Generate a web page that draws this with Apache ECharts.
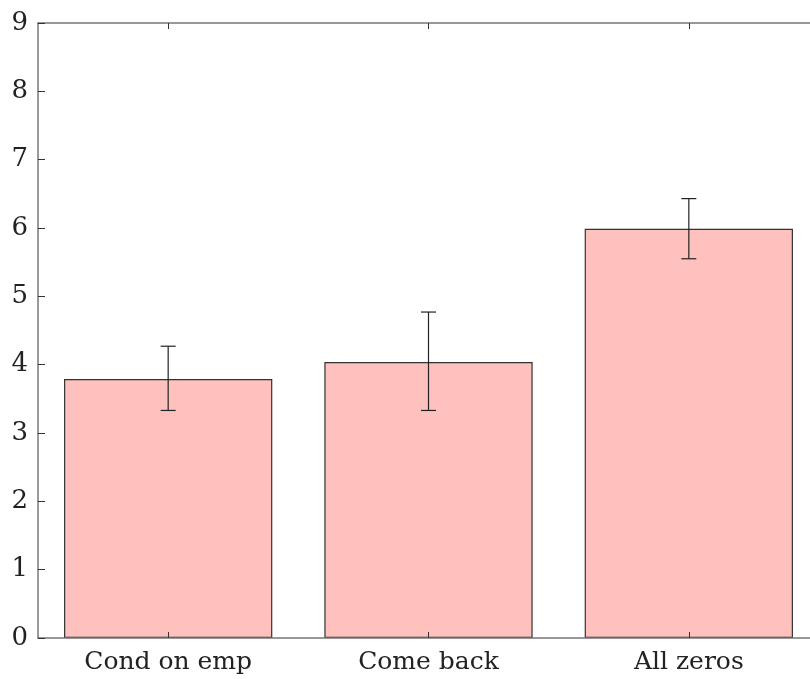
<!DOCTYPE html>
<html><head><meta charset="utf-8">
<script src="https://cdn.jsdelivr.net/npm/echarts@6/dist/echarts.min.js"></script>
<style>html,body{margin:0;padding:0;background:#fff;overflow:hidden}#c{width:830px;height:679px}</style>
</head><body><div id="c"></div>
<script>
var categories = ["Cond on emp", "Come back", "All zeros"];
var values = [3.79, 4.04, 5.99];
var errLow = [3.33, 3.33, 5.55];
var errHigh = [4.27, 4.77, 6.43];
var yTicks = [0, 9, 1];

var font = "DejaVu Serif";
var chart = echarts.init(document.getElementById('c'));
chart.setOption({
  animation: false,
  grid: {left: 38, top: 23, bottom: 41, right: 11},
  xAxis: [{
    type: 'category', data: categories, position: 'bottom', z: 10,
    axisLine: {lineStyle: {color: '#777', width: 1.5}},
    axisTick: {show: true, inside: true, alignWithLabel: true, length: 6, lineStyle: {color: '#333'}},
    axisLabel: {fontFamily: font, fontSize: 25, color: '#222', margin: 12}
  }, {
    type: 'category', data: categories, position: 'top', z: 10,
    axisLine: {lineStyle: {color: '#777', width: 1.5}},
    axisTick: {show: true, inside: true, alignWithLabel: true, length: 6, lineStyle: {color: '#333'}},
    axisLabel: {show: false}
  }],
  yAxis: {
    type: 'value', min: yTicks[0], max: yTicks[1], interval: yTicks[2], z: 10,
    axisLine: {show: true, lineStyle: {color: '#777', width: 1.5}},
    axisTick: {show: true, inside: true, length: 7, lineStyle: {color: '#333'}},
    splitLine: {show: false},
    axisLabel: {fontFamily: font, fontSize: 26, color: '#222', margin: 10}
  },
  series: [{
    type: 'bar', data: values, barWidth: '80%',
    itemStyle: {color: '#fec1bd', borderColor: '#333', borderWidth: 1.2}
  }, {
    type: 'custom',
    data: categories.map(function (c, i) { return [i, errLow[i], errHigh[i]]; }),
    renderItem: function (params, api) {
      var lo = api.coord([api.value(0), api.value(1)]);
      var hi = api.coord([api.value(0), api.value(2)]);
      var hw = 7.5;
      var st = {stroke: '#222', lineWidth: 1.2};
      return {type: 'group', children: [
        {type: 'line', shape: {x1: hi[0], y1: hi[1], x2: lo[0], y2: lo[1]}, style: st},
        {type: 'line', shape: {x1: hi[0] - hw, y1: hi[1], x2: hi[0] + hw, y2: hi[1]}, style: st},
        {type: 'line', shape: {x1: lo[0] - hw, y1: lo[1], x2: lo[0] + hw, y2: lo[1]}, style: st}
      ]};
    },
    z: 5
  }]
});
</script></body></html>
